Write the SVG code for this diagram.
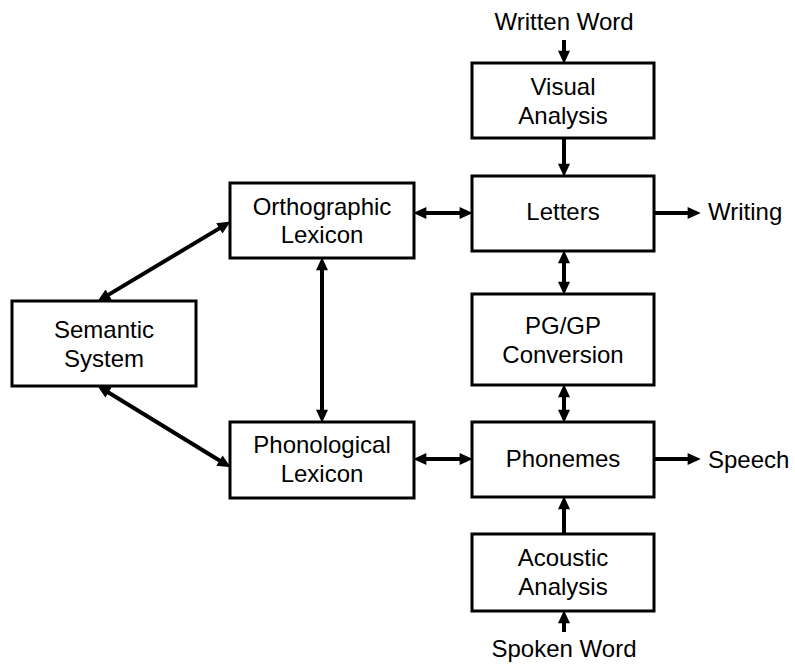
<svg xmlns="http://www.w3.org/2000/svg" width="795" height="664" viewBox="0 0 795 664">
<style>
.box{fill:#fff;stroke:#000;stroke-width:3}
text{font-family:"Liberation Sans",Arial,sans-serif;font-size:24px;fill:#000;text-anchor:middle}
.lbl{text-anchor:start}
.c line{stroke:#000;stroke-width:4}
.one{marker-end:url(#ah)}
.two{marker-start:url(#ah);marker-end:url(#ah)}
</style>
<defs>
<marker id="ah" markerUnits="userSpaceOnUse" markerWidth="14" markerHeight="12" refX="4" refY="5.5" orient="auto-start-reverse" viewBox="0 0 12 11">
<path d="M0,0 L12,5.5 L0,11 z" fill="#000"/>
</marker>
</defs>
<rect width="795" height="664" fill="#fff"/>
<g id="written-word"><text x="564" y="30">Written Word</text></g>
<g id="visual-analysis"><rect class="box" x="472" y="63" width="182" height="75"/><text x="563" y="95">Visual</text><text x="563" y="124">Analysis</text></g>
<g id="letters"><rect class="box" x="472" y="176" width="182" height="75"/><text x="563" y="220">Letters</text></g>
<g id="pg-gp"><rect class="box" x="472" y="294" width="182" height="91"/><text x="563" y="334">PG/GP</text><text x="563" y="363">Conversion</text></g>
<g id="phonemes"><rect class="box" x="472" y="422" width="182" height="75"/><text x="563" y="467">Phonemes</text></g>
<g id="acoustic-analysis"><rect class="box" x="472" y="534" width="182" height="77"/><text x="563" y="566">Acoustic</text><text x="563" y="595">Analysis</text></g>
<g id="spoken-word"><text x="564" y="657">Spoken Word</text></g>
<g id="writing"><text class="lbl" x="708" y="220">Writing</text></g>
<g id="speech"><text class="lbl" x="708" y="468">Speech</text></g>
<g id="orthographic-lexicon"><rect class="box" x="230" y="183" width="184" height="75"/><text x="322" y="215">Orthographic</text><text x="322" y="243">Lexicon</text></g>
<g id="phonological-lexicon"><rect class="box" x="230" y="422" width="184" height="76"/><text x="322" y="453">Phonological</text><text x="322" y="482">Lexicon</text></g>
<g id="semantic-system"><rect class="box" x="12" y="301" width="184" height="85"/><text x="104" y="338">Semantic</text><text x="104" y="367">System</text></g>
<g id="connectors" class="c">
<line class="one" x1="564" y1="40" x2="564" y2="55"/>
<line class="one" x1="564" y1="138" x2="564" y2="168"/>
<line class="two" x1="564" y1="259" x2="564" y2="286"/>
<line class="two" x1="564" y1="393" x2="564" y2="414"/>
<line class="one" x1="564" y1="534" x2="564" y2="505"/>
<line class="one" x1="564" y1="632" x2="564" y2="619"/>
<line class="one" x1="654" y1="213" x2="692" y2="213"/>
<line class="one" x1="654" y1="459" x2="692" y2="459"/>
<line class="two" x1="422" y1="213" x2="464" y2="213"/>
<line class="two" x1="422" y1="459" x2="464" y2="459"/>
<line class="two" x1="322" y1="266" x2="322" y2="414"/>
<line class="two" x1="104.9" y1="296.9" x2="223.1" y2="226.1"/>
<line class="two" x1="104.8" y1="390.2" x2="223.2" y2="462.8"/>
</g>
</svg>
